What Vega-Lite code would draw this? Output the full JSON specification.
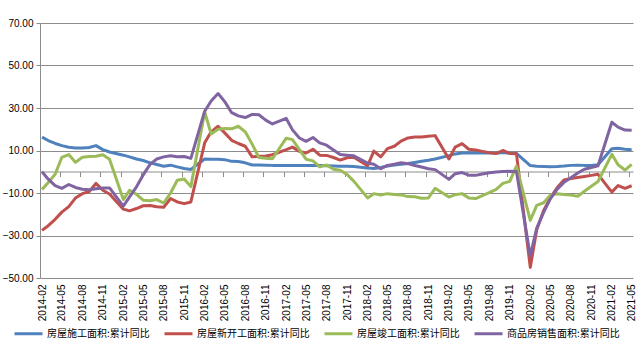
{
  "$schema": "https://vega.github.io/schema/vega-lite/v6.json",
  "width": 593,
  "height": 255,
  "autosize": {"type": "none"},
  "padding": {"left": 40, "top": 23, "right": 9, "bottom": 73},
  "background": "white",
  "config": {"view": {"stroke": null}, "font": "Liberation Sans"},
  "data": {"values": [
    {"date": "2014-02", "房屋施工面积:累计同比": 16.3, "房屋新开工面积:累计同比": -27.6, "房屋竣工面积:累计同比": -8.4, "商品房销售面积:累计同比": 0.0},
    {"date": "2014-03", "房屋施工面积:累计同比": 14.7, "房屋新开工面积:累计同比": -25.4, "房屋竣工面积:累计同比": -5.1, "商品房销售面积:累计同比": -3.5},
    {"date": "2014-04", "房屋施工面积:累计同比": 13.3, "房屋新开工面积:累计同比": -22.4, "房屋竣工面积:累计同比": -1.2, "商品房销售面积:累计同比": -6.5},
    {"date": "2014-05", "房屋施工面积:累计同比": 12.3, "房屋新开工面积:累计同比": -19.0, "房屋竣工面积:累计同比": 6.8, "商品房销售面积:累计同比": -7.8},
    {"date": "2014-06", "房屋施工面积:累计同比": 11.5, "房屋新开工面积:累计同比": -16.4, "房屋竣工面积:累计同比": 8.1, "商品房销售面积:累计同比": -6.0},
    {"date": "2014-07", "房屋施工面积:累计同比": 11.2, "房屋新开工面积:累计同比": -12.4, "房屋竣工面积:累计同比": 4.4, "商品房销售面积:累计同比": -7.4},
    {"date": "2014-08", "房屋施工面积:累计同比": 11.2, "房屋新开工面积:累计同比": -10.3, "房屋竣工面积:累计同比": 6.8, "商品房销售面积:累计同比": -8.2},
    {"date": "2014-09", "房屋施工面积:累计同比": 11.4, "房屋新开工面积:累计同比": -9.3, "房屋竣工面积:累计同比": 7.2, "商品房销售面积:累计同比": -8.5},
    {"date": "2014-10", "房屋施工面积:累计同比": 12.3, "房屋新开工面积:累计同比": -5.5, "房屋竣工面积:累计同比": 7.3, "商品房销售面积:累计同比": -8.0},
    {"date": "2014-11", "房屋施工面积:累计同比": 10.4, "房屋新开工面积:累计同比": -8.7, "房屋竣工面积:累计同比": 8.0, "商品房销售面积:累计同比": -7.6},
    {"date": "2014-12", "房屋施工面积:累计同比": 9.3, "房屋新开工面积:累计同比": -10.5, "房屋竣工面积:累计同比": 5.9, "商品房销售面积:累计同比": -7.6},
    {"date": "2015-02", "房屋施工面积:累计同比": 7.8, "房屋新开工面积:累计同比": -17.6, "房屋竣工面积:累计同比": -13.1, "商品房销售面积:累计同比": -16.2},
    {"date": "2015-03", "房屋施工面积:累计同比": 7.0, "房屋新开工面积:累计同比": -18.4, "房屋竣工面积:累计同比": -8.7, "商品房销售面积:累计同比": -11.8},
    {"date": "2015-04", "房屋施工面积:累计同比": 6.0, "房屋新开工面积:累计同比": -17.3, "房屋竣工面积:累计同比": -10.6, "商品房销售面积:累计同比": -7.1},
    {"date": "2015-05", "房屋施工面积:累计同比": 5.3, "房屋新开工面积:累计同比": -16.0, "房屋竣工面积:累计同比": -13.4, "商品房销售面积:累计同比": -1.5},
    {"date": "2015-06", "房屋施工面积:累计同比": 4.2, "房屋新开工面积:累计同比": -15.9, "房屋竣工面积:累计同比": -13.6, "商品房销售面积:累计同比": 3.5},
    {"date": "2015-07", "房屋施工面积:累计同比": 3.4, "房屋新开工面积:累计同比": -16.5, "房屋竣工面积:累计同比": -13.1, "商品房销售面积:累计同比": 6.0},
    {"date": "2015-08", "房屋施工面积:累计同比": 2.6, "房屋新开工面积:累计同比": -16.7, "房屋竣工面积:累计同比": -14.7, "商品房销售面积:累计同比": 7.0},
    {"date": "2015-09", "房屋施工面积:累计同比": 3.1, "房屋新开工面积:累计同比": -12.6, "房屋竣工面积:累计同比": -10.0, "商品房销售面积:累计同比": 7.5},
    {"date": "2015-10", "房屋施工面积:累计同比": 2.3, "房屋新开工面积:累计同比": -14.2, "房屋竣工面积:累计同比": -4.0, "商品房销售面积:累计同比": 7.1},
    {"date": "2015-11", "房屋施工面积:累计同比": 1.5, "房屋新开工面积:累计同比": -15.0, "房屋竣工面积:累计同比": -3.4, "商品房销售面积:累计同比": 7.2},
    {"date": "2015-12", "房屋施工面积:累计同比": 1.1, "房屋新开工面积:累计同比": -14.2, "房屋竣工面积:累计同比": -7.0, "商品房销售面积:累计同比": 6.3},
    {"date": "2016-02", "房屋施工面积:累计同比": 6.0, "房屋新开工面积:累计同比": 13.6, "房屋竣工面积:累计同比": 28.1, "商品房销售面积:累计同比": 28.5},
    {"date": "2016-03", "房屋施工面积:累计同比": 5.9, "房屋新开工面积:累计同比": 18.8, "房屋竣工面积:累计同比": 17.8, "商品房销售面积:累计同比": 33.3},
    {"date": "2016-04", "房屋施工面积:累计同比": 5.9, "房屋新开工面积:累计同比": 21.4, "房屋竣工面积:累计同比": 20.0, "商品房销售面积:累计同比": 36.8},
    {"date": "2016-05", "房屋施工面积:累计同比": 5.7, "房屋新开工面积:累计同比": 18.3, "房屋竣工面积:累计同比": 20.3, "商品房销售面积:累计同比": 33.0},
    {"date": "2016-06", "房屋施工面积:累计同比": 4.9, "房屋新开工面积:累计同比": 14.8, "房屋竣工面积:累计同比": 20.2, "商品房销售面积:累计同比": 27.8},
    {"date": "2016-07", "房屋施工面积:累计同比": 4.8, "房屋新开工面积:累计同比": 13.3, "房屋竣工面积:累计同比": 21.4, "商品房销售面积:累计同比": 26.3},
    {"date": "2016-08", "房屋施工面积:累计同比": 4.2, "房屋新开工面积:累计同比": 12.0, "房屋竣工面积:累计同比": 18.8, "商品房销售面积:累计同比": 25.5},
    {"date": "2016-09", "房屋施工面积:累计同比": 3.2, "房屋新开工面积:累计同比": 7.0, "房屋竣工面积:累计同比": 13.0, "商品房销售面积:累计同比": 27.0},
    {"date": "2016-10", "房屋施工面积:累计同比": 3.2, "房屋新开工面积:累计同比": 7.3, "房屋竣工面积:累计同比": 6.7, "商品房销售面积:累计同比": 26.8},
    {"date": "2016-11", "房屋施工面积:累计同比": 3.1, "房屋新开工面积:累计同比": 7.4, "房屋竣工面积:累计同比": 6.4, "商品房销售面积:累计同比": 24.3},
    {"date": "2016-12", "房屋施工面积:累计同比": 3.0, "房屋新开工面积:累计同比": 8.0, "房屋竣工面积:累计同比": 6.1, "商品房销售面积:累计同比": 22.5},
    {"date": "2017-02", "房屋施工面积:累计同比": 3.0, "房屋新开工面积:累计同比": 10.4, "房屋竣工面积:累计同比": 15.8, "商品房销售面积:累计同比": 25.1},
    {"date": "2017-03", "房屋施工面积:累计同比": 3.0, "房屋新开工面积:累计同比": 11.6, "房屋竣工面积:累计同比": 15.1, "商品房销售面积:累计同比": 19.7},
    {"date": "2017-04", "房屋施工面积:累计同比": 3.0, "房屋新开工面积:累计同比": 9.6, "房屋竣工面积:累计同比": 10.4, "商品房销售面积:累计同比": 15.9},
    {"date": "2017-05", "房屋施工面积:累计同比": 3.0, "房屋新开工面积:累计同比": 8.8, "房屋竣工面积:累计同比": 5.9, "商品房销售面积:累计同比": 14.3},
    {"date": "2017-06", "房屋施工面积:累计同比": 3.0, "房屋新开工面积:累计同比": 10.6, "房屋竣工面积:累计同比": 5.1, "商品房销售面积:累计同比": 16.1},
    {"date": "2017-07", "房屋施工面积:累计同比": 2.9, "房屋新开工面积:累计同比": 7.8, "房屋竣工面积:累计同比": 2.3, "商品房销售面积:累计同比": 13.6},
    {"date": "2017-08", "房屋施工面积:累计同比": 2.8, "房屋新开工面积:累计同比": 7.7, "房屋竣工面积:累计同比": 3.2, "商品房销售面积:累计同比": 12.5},
    {"date": "2017-09", "房屋施工面积:累计同比": 2.7, "房屋新开工面积:累计同比": 6.7, "房屋竣工面积:累计同比": 1.2, "商品房销售面积:累计同比": 10.2},
    {"date": "2017-10", "房屋施工面积:累计同比": 2.6, "房屋新开工面积:累计同比": 5.5, "房屋竣工面积:累计同比": 0.7, "商品房销售面积:累计同比": 8.1},
    {"date": "2017-11", "房屋施工面积:累计同比": 2.6, "房屋新开工面积:累计同比": 6.6, "房屋竣工面积:累计同比": -1.3, "商品房销售面积:累计同比": 7.8},
    {"date": "2017-12", "房屋施工面积:累计同比": 2.5, "房屋新开工面积:累计同比": 6.8, "房屋竣工面积:累计同比": -4.4, "商品房销售面积:累计同比": 7.5},
    {"date": "2018-02", "房屋施工面积:累计同比": 1.8, "房屋新开工面积:累计同比": 2.8, "房屋竣工面积:累计同比": -12.3, "商品房销售面积:累计同比": 4.1},
    {"date": "2018-03", "房屋施工面积:累计同比": 1.5, "房屋新开工面积:累计同比": 9.7, "房屋竣工面积:累计同比": -10.3, "商品房销售面积:累计同比": 3.5},
    {"date": "2018-04", "房屋施工面积:累计同比": 2.0, "房屋新开工面积:累计同比": 7.0, "房屋竣工面积:累计同比": -10.9, "商品房销售面积:累计同比": 1.4},
    {"date": "2018-05", "房屋施工面积:累计同比": 2.7, "房屋新开工面积:累计同比": 10.9, "房屋竣工面积:累计同比": -10.3, "商品房销售面积:累计同比": 3.0},
    {"date": "2018-06", "房屋施工面积:累计同比": 3.2, "房屋新开工面积:累计同比": 12.0, "房屋竣工面积:累计同比": -10.7, "商品房销售面积:累计同比": 3.5},
    {"date": "2018-07", "房屋施工面积:累计同比": 3.5, "房屋新开工面积:累计同比": 14.4, "房屋竣工面积:累计同比": -10.9, "商品房销售面积:累计同比": 4.2},
    {"date": "2018-08", "房屋施工面积:累计同比": 3.9, "房屋新开工面积:累计同比": 15.9, "房屋竣工面积:累计同比": -11.7, "商品房销售面积:累计同比": 3.8},
    {"date": "2018-09", "房屋施工面积:累计同比": 4.4, "房屋新开工面积:累计同比": 16.4, "房屋竣工面积:累计同比": -11.8, "商品房销售面积:累计同比": 2.9},
    {"date": "2018-10", "房屋施工面积:累计同比": 4.9, "房屋新开工面积:累计同比": 16.3, "房屋竣工面积:累计同比": -12.5, "商品房销售面积:累计同比": 2.2},
    {"date": "2018-11", "房屋施工面积:累计同比": 5.4, "房屋新开工面积:累计同比": 16.7, "房屋竣工面积:累计同比": -12.3, "商品房销售面积:累计同比": 1.4},
    {"date": "2018-12", "房屋施工面积:累计同比": 6.0, "房屋新开工面积:累计同比": 17.0, "房屋竣工面积:累计同比": -7.8, "商品房销售面积:累计同比": 1.0},
    {"date": "2019-02", "房屋施工面积:累计同比": 7.6, "房屋新开工面积:累计同比": 6.0, "房屋竣工面积:累计同比": -11.9, "商品房销售面积:累计同比": -3.6},
    {"date": "2019-03", "房屋施工面积:累计同比": 8.4, "房屋新开工面积:累计同比": 11.6, "房屋竣工面积:累计同比": -10.8, "商品房销售面积:累计同比": -0.9},
    {"date": "2019-04", "房屋施工面积:累计同比": 8.8, "房屋新开工面积:累计同比": 13.2, "房屋竣工面积:累计同比": -10.3, "商品房销售面积:累计同比": -0.4},
    {"date": "2019-05", "房屋施工面积:累计同比": 8.8, "房屋新开工面积:累计同比": 10.6, "房屋竣工面积:累计同比": -12.3, "商品房销售面积:累计同比": -1.6},
    {"date": "2019-06", "房屋施工面积:累计同比": 8.8, "房屋新开工面积:累计同比": 10.2, "房屋竣工面积:累计同比": -12.6, "商品房销售面积:累计同比": -1.7},
    {"date": "2019-07", "房屋施工面积:累计同比": 8.9, "房屋新开工面积:累计同比": 9.6, "房屋竣工面积:累计同比": -11.2, "商品房销售面积:累计同比": -1.1},
    {"date": "2019-08", "房屋施工面积:累计同比": 8.8, "房屋新开工面积:累计同比": 9.0, "房屋竣工面积:累计同比": -9.8, "商品房销售面积:累计同比": -0.5},
    {"date": "2019-09", "房屋施工面积:累计同比": 8.7, "房屋新开工面积:累计同比": 8.6, "房屋竣工面积:累计同比": -8.3, "商品房销售面积:累计同比": -0.1},
    {"date": "2019-10", "房屋施工面积:累计同比": 9.0, "房屋新开工面积:累计同比": 10.0, "房屋竣工面积:累计同比": -5.5, "商品房销售面积:累计同比": 0.1},
    {"date": "2019-11", "房屋施工面积:累计同比": 8.7, "房屋新开工面积:累计同比": 8.6, "房屋竣工面积:累计同比": -4.5, "商品房销售面积:累计同比": 0.2},
    {"date": "2019-12", "房屋施工面积:累计同比": 8.7, "房屋新开工面积:累计同比": 8.5, "房屋竣工面积:累计同比": 2.6, "商品房销售面积:累计同比": 0.1},
    {"date": "2020-02", "房屋施工面积:累计同比": 2.9, "房屋新开工面积:累计同比": -45.0, "房屋竣工面积:累计同比": -22.9, "商品房销售面积:累计同比": -39.6},
    {"date": "2020-03", "房屋施工面积:累计同比": 2.6, "房屋新开工面积:累计同比": -27.3, "房屋竣工面积:累计同比": -15.8, "商品房销售面积:累计同比": -26.5},
    {"date": "2020-04", "房屋施工面积:累计同比": 2.5, "房屋新开工面积:累计同比": -18.2, "房屋竣工面积:累计同比": -14.6, "商品房销售面积:累计同比": -19.1},
    {"date": "2020-05", "房屋施工面积:累计同比": 2.4, "房屋新开工面积:累计同比": -12.3, "房屋竣工面积:累计同比": -11.0, "商品房销售面积:累计同比": -12.8},
    {"date": "2020-06", "房屋施工面积:累计同比": 2.5, "房屋新开工面积:累计同比": -7.4, "房屋竣工面积:累计同比": -10.4, "商品房销售面积:累计同比": -8.2},
    {"date": "2020-07", "房屋施工面积:累计同比": 2.7, "房屋新开工面积:累计同比": -3.9, "房屋竣工面积:累计同比": -10.7, "商品房销售面积:累计同比": -5.0},
    {"date": "2020-08", "房屋施工面积:累计同比": 3.0, "房屋新开工面积:累计同比": -3.2, "房屋竣工面积:累计同比": -11.0, "商品房销售面积:累计同比": -2.8},
    {"date": "2020-09", "房屋施工面积:累计同比": 3.1, "房屋新开工面积:累计同比": -2.7, "房屋竣工面积:累计同比": -11.5, "商品房销售面积:累计同比": -0.6},
    {"date": "2020-10", "房屋施工面积:累计同比": 3.0, "房屋新开工面积:累计同比": -2.2, "房屋竣工面积:累计同比": -9.2, "商品房销售面积:累计同比": 1.2},
    {"date": "2020-11", "房屋施工面积:累计同比": 3.0, "房屋新开工面积:累计同比": -1.7, "房屋竣工面积:累计同比": -6.8, "商品房销售面积:累计同比": 2.0},
    {"date": "2020-12", "房屋施工面积:累计同比": 3.3, "房屋新开工面积:累计同比": -1.2, "房屋竣工面积:累计同比": -4.6, "商品房销售面积:累计同比": 2.8},
    {"date": "2021-02", "房屋施工面积:累计同比": 10.8, "房屋新开工面积:累计同比": -9.6, "房屋竣工面积:累计同比": 8.2, "商品房销售面积:累计同比": 23.3},
    {"date": "2021-03", "房屋施工面积:累计同比": 11.1, "房屋新开工面积:累计同比": -6.5, "房屋竣工面积:累计同比": 3.3, "商品房销售面积:累计同比": 21.0},
    {"date": "2021-04", "房屋施工面积:累计同比": 10.6, "房屋新开工面积:累计同比": -7.8, "房屋竣工面积:累计同比": 0.8, "商品房销售面积:累计同比": 19.6},
    {"date": "2021-05", "房屋施工面积:累计同比": 10.4, "房屋新开工面积:累计同比": -6.6, "房屋竣工面积:累计同比": 3.5, "商品房销售面积:累计同比": 19.5}
  ]},
  "transform": [
    {"fold": ["房屋施工面积:累计同比", "房屋新开工面积:累计同比", "房屋竣工面积:累计同比", "商品房销售面积:累计同比"], "as": ["series", "value"]}
  ],
  "layer": [
    {
      "mark": {"type": "line", "strokeWidth": 3, "strokeJoin": "round"},
      "encoding": {
        "x": {
          "field": "date", "type": "temporal",
          "scale": {"type": "utc", "domain": [1390435200000, 1620345600000]},
          "axis": {
            "title": null, "labelExpr": "utcFormat(datum.value, '%Y-%m')", "labelAngle": -90,
            "ticks": false, "domain": false, "grid": false, "labelFontSize": 10,
            "labelPadding": 6, "labelColor": "#000000", "labelFont": "Liberation Sans",
            "labelOverlap": false,
            "values": [
              {"year": 2014, "month": "feb", "date": 1, "utc": true}, {"year": 2014, "month": "may", "date": 1, "utc": true}, {"year": 2014, "month": "aug", "date": 1, "utc": true}, {"year": 2014, "month": "nov", "date": 1, "utc": true},
              {"year": 2015, "month": "feb", "date": 1, "utc": true}, {"year": 2015, "month": "may", "date": 1, "utc": true}, {"year": 2015, "month": "aug", "date": 1, "utc": true}, {"year": 2015, "month": "nov", "date": 1, "utc": true},
              {"year": 2016, "month": "feb", "date": 1, "utc": true}, {"year": 2016, "month": "may", "date": 1, "utc": true}, {"year": 2016, "month": "aug", "date": 1, "utc": true}, {"year": 2016, "month": "nov", "date": 1, "utc": true},
              {"year": 2017, "month": "feb", "date": 1, "utc": true}, {"year": 2017, "month": "may", "date": 1, "utc": true}, {"year": 2017, "month": "aug", "date": 1, "utc": true}, {"year": 2017, "month": "nov", "date": 1, "utc": true},
              {"year": 2018, "month": "feb", "date": 1, "utc": true}, {"year": 2018, "month": "may", "date": 1, "utc": true}, {"year": 2018, "month": "aug", "date": 1, "utc": true}, {"year": 2018, "month": "nov", "date": 1, "utc": true},
              {"year": 2019, "month": "feb", "date": 1, "utc": true}, {"year": 2019, "month": "may", "date": 1, "utc": true}, {"year": 2019, "month": "aug", "date": 1, "utc": true}, {"year": 2019, "month": "nov", "date": 1, "utc": true},
              {"year": 2020, "month": "feb", "date": 1, "utc": true}, {"year": 2020, "month": "may", "date": 1, "utc": true}, {"year": 2020, "month": "aug", "date": 1, "utc": true}, {"year": 2020, "month": "nov", "date": 1, "utc": true},
              {"year": 2021, "month": "feb", "date": 1, "utc": true}, {"year": 2021, "month": "may", "date": 1, "utc": true}
            ]
          }
        },
        "y": {
          "field": "value", "type": "quantitative",
          "scale": {"domain": [-50, 70], "nice": false, "zero": false},
          "axis": {
            "title": null, "values": [-50, -30, -10, 10, 30, 50, 70], "format": ".2f",
            "grid": true, "gridColor": "#8c8c8c", "gridWidth": 1, "domainColor": "#8c8c8c",
            "tickColor": "#8c8c8c", "tickSize": 4, "labelFontSize": 10, "labelPadding": 3,
            "labelColor": "#000000", "labelFont": "Liberation Sans"
          }
        },
        "color": {
          "field": "series", "type": "nominal",
          "scale": {
            "domain": ["房屋施工面积:累计同比", "房屋新开工面积:累计同比", "房屋竣工面积:累计同比", "商品房销售面积:累计同比"],
            "range": ["#4F81BD", "#C0504D", "#9BBB59", "#8064A2"]
          },
          "legend": {
            "orient": "none", "legendX": -27, "legendY": 295, "direction": "horizontal",
            "title": null, "symbolType": "stroke", "symbolSize": 784, "symbolStrokeWidth": 3,
            "labelFont": "Noto Sans CJK SC", "labelFontSize": 10, "labelColor": "#000000",
            "labelOffset": 3, "columnPadding": 8, "labelLimit": 300
          }
        }
      }
    },
    {
      "mark": {"type": "point", "opacity": 0},
      "encoding": {
        "x": {
          "field": "date", "type": "temporal",
          "axis": {
            "orient": "bottom", "offset": -106.5, "title": null, "labels": false,
            "ticks": true, "tickSize": 5, "tickColor": "#8c8c8c", "domain": true,
            "domainColor": "#8c8c8c", "grid": false,
            "values": [
              {"year": 2014, "month": "jan", "date": 21, "utc": true}, {"year": 2014, "month": "apr", "date": 21, "utc": true}, {"year": 2014, "month": "jul", "date": 21, "utc": true}, {"year": 2014, "month": "oct", "date": 21, "utc": true},
              {"year": 2015, "month": "jan", "date": 21, "utc": true}, {"year": 2015, "month": "apr", "date": 21, "utc": true}, {"year": 2015, "month": "jul", "date": 21, "utc": true}, {"year": 2015, "month": "oct", "date": 21, "utc": true},
              {"year": 2016, "month": "jan", "date": 21, "utc": true}, {"year": 2016, "month": "apr", "date": 21, "utc": true}, {"year": 2016, "month": "jul", "date": 21, "utc": true}, {"year": 2016, "month": "oct", "date": 21, "utc": true},
              {"year": 2017, "month": "jan", "date": 21, "utc": true}, {"year": 2017, "month": "apr", "date": 21, "utc": true}, {"year": 2017, "month": "jul", "date": 21, "utc": true}, {"year": 2017, "month": "oct", "date": 21, "utc": true},
              {"year": 2018, "month": "jan", "date": 21, "utc": true}, {"year": 2018, "month": "apr", "date": 21, "utc": true}, {"year": 2018, "month": "jul", "date": 21, "utc": true}, {"year": 2018, "month": "oct", "date": 21, "utc": true},
              {"year": 2019, "month": "jan", "date": 21, "utc": true}, {"year": 2019, "month": "apr", "date": 21, "utc": true}, {"year": 2019, "month": "jul", "date": 21, "utc": true}, {"year": 2019, "month": "oct", "date": 21, "utc": true},
              {"year": 2020, "month": "jan", "date": 21, "utc": true}, {"year": 2020, "month": "apr", "date": 21, "utc": true}, {"year": 2020, "month": "jul", "date": 21, "utc": true}, {"year": 2020, "month": "oct", "date": 21, "utc": true},
              {"year": 2021, "month": "jan", "date": 21, "utc": true}, {"year": 2021, "month": "apr", "date": 21, "utc": true}
            ]
          }
        },
        "y": {"field": "value", "type": "quantitative"}
      }
    }
  ],
  "resolve": {"axis": {"x": "independent"}}
}
